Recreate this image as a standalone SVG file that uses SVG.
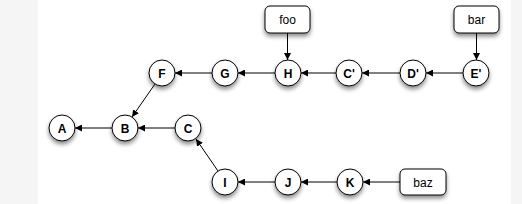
<svg xmlns="http://www.w3.org/2000/svg" width="522" height="204" viewBox="0 0 522 204">
<style>
.n circle{fill:#fff;stroke:#000;stroke-width:1}
.n rect{fill:#fff;stroke:#000;stroke-width:1}
.c{font-family:"Liberation Sans",Arial,sans-serif;font-weight:bold;font-size:12px;text-anchor:middle}
.b{font-family:"Liberation Sans",Arial,sans-serif;font-size:12px;text-anchor:middle}
.e line{stroke:#000;stroke-width:1;marker-end:url(#ah)}
</style>
<defs>
<filter id="sh" x="-50%" y="-50%" width="200%" height="200%">
<feDropShadow dx="0" dy="3" stdDeviation="2" flood-color="#000" flood-opacity="0.45"/>
</filter>
<marker id="ah" viewBox="0 0 10 10" refX="10" refY="5" markerWidth="7" markerHeight="7" markerUnits="userSpaceOnUse" orient="auto">
<path d="M0,0 L10,5 L0,10 z" fill="#000"/>
</marker>
</defs>
<rect x="0" y="0" width="522" height="204" fill="#f5f5f5"/>
<rect x="38" y="0" width="473" height="204" fill="#fff"/>
<g class="e" id="connectors">
<line x1="212" y1="73" x2="175" y2="73"/>
<line x1="275" y1="73" x2="238" y2="73"/>
<line x1="336" y1="73" x2="301" y2="73"/>
<line x1="400" y1="73" x2="362" y2="73"/>
<line x1="463" y1="73" x2="426" y2="73"/>
<line x1="287.5" y1="33" x2="287.5" y2="60"/>
<line x1="476.5" y1="33" x2="476.5" y2="60"/>
<line x1="155" y1="84" x2="132" y2="117"/>
<line x1="112" y1="128" x2="75" y2="128"/>
<line x1="175" y1="128" x2="138" y2="128"/>
<line x1="218" y1="171" x2="196" y2="139"/>
<line x1="275" y1="182" x2="238" y2="182"/>
<line x1="337" y1="182" x2="301" y2="182"/>
<line x1="400" y1="182" x2="363" y2="182"/>
</g>
<g class="n" id="F"><circle cx="162" cy="73" r="13" filter="url(#sh)"/><text class="c" x="162" y="77.5">F</text></g>
<g class="n" id="G"><circle cx="225" cy="73" r="13" filter="url(#sh)"/><text class="c" x="225" y="77.5">G</text></g>
<g class="n" id="H"><circle cx="288" cy="73" r="13" filter="url(#sh)"/><text class="c" x="288" y="77.5">H</text></g>
<g class="n" id="Cp"><circle cx="349" cy="73" r="13" filter="url(#sh)"/><text class="c" x="349" y="77.5">C'</text></g>
<g class="n" id="Dp"><circle cx="413" cy="73" r="13" filter="url(#sh)"/><text class="c" x="413" y="77.5">D'</text></g>
<g class="n" id="Ep"><circle cx="476" cy="73" r="13" filter="url(#sh)"/><text class="c" x="476" y="77.5">E'</text></g>
<g class="n" id="foo"><rect x="265" y="6" width="45" height="27" rx="5" filter="url(#sh)"/><text class="b" x="287.5" y="23.5">foo</text></g>
<g class="n" id="bar"><rect x="454" y="6" width="45" height="27" rx="5" filter="url(#sh)"/><text class="b" x="476.5" y="23.5">bar</text></g>
<g class="n" id="A"><circle cx="62" cy="128" r="13" filter="url(#sh)"/><text class="c" x="62" y="132.5">A</text></g>
<g class="n" id="B"><circle cx="125" cy="128" r="13" filter="url(#sh)"/><text class="c" x="125" y="132.5">B</text></g>
<g class="n" id="C"><circle cx="188" cy="128" r="13" filter="url(#sh)"/><text class="c" x="188" y="132.5">C</text></g>
<g class="n" id="I"><circle cx="225" cy="182" r="13" filter="url(#sh)"/><text class="c" x="225" y="186.5">I</text></g>
<g class="n" id="J"><circle cx="288" cy="182" r="13" filter="url(#sh)"/><text class="c" x="288" y="186.5">J</text></g>
<g class="n" id="K"><circle cx="350" cy="182" r="13" filter="url(#sh)"/><text class="c" x="350" y="186.5">K</text></g>
<g class="n" id="baz"><rect x="400" y="169" width="46" height="26" rx="5" filter="url(#sh)"/><text class="b" x="423" y="186.5">baz</text></g>
</svg>
